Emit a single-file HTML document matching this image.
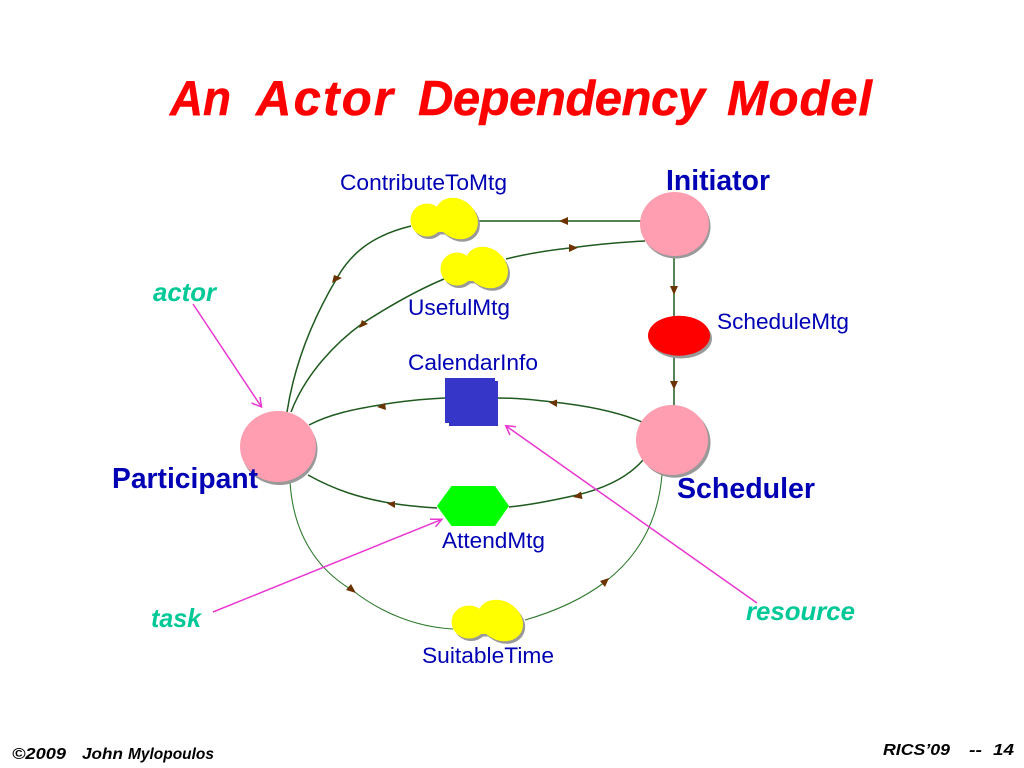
<!DOCTYPE html>
<html><head><meta charset="utf-8"><style>
html,body{margin:0;padding:0;background:#fff}
svg{display:block}
text{font-family:"Liberation Sans",sans-serif}
.h{fill:#f00;font-weight:bold;font-style:italic;font-size:49px;stroke:#f00;stroke-width:.5;stroke-linejoin:round}
.b{fill:#0000b4;font-weight:bold;font-size:28.3px}
.l{fill:#0000b4;font-size:22.3px}
.g{fill:#00c896;font-weight:bold;font-style:italic;font-size:25.8px}
.f{font-weight:bold;font-style:italic;font-size:16px;fill:#000}
.c{fill:none;stroke:#1f5a1f;stroke-width:1.5}
.t{fill:none;stroke:#2f7a2f;stroke-width:1.1}
.m{fill:none;stroke:#e838d0;stroke-width:1.5}
.a{fill:#6b3300}
</style></head><body>
<svg width="1024" height="768" viewBox="0 0 1024 768" xmlns="http://www.w3.org/2000/svg">
<defs>
<g id="sg">
<ellipse cx="427" cy="220" rx="16.5" ry="16.5"/>
<ellipse cx="456.5" cy="218.5" rx="23" ry="19" transform="rotate(40 456.5 218.5)"/>
<rect x="430" y="209" width="16" height="23"/>
</g>
</defs>
<rect width="1024" height="768" fill="#fff"/>
<text class="h" x="170" y="115" textLength="61" lengthAdjust="spacingAndGlyphs">An</text>
<text class="h" x="256" y="115" textLength="137" lengthAdjust="spacing">Actor</text>
<text class="h" x="418" y="115" textLength="287" lengthAdjust="spacing">Dependency</text>
<text class="h" x="727" y="115" textLength="145" lengthAdjust="spacing">Model</text>

<!-- connectors -->
<path class="c" d="M476 221H642"/>
<path class="c" d="M506 259C530 253 550 250 572 247.7C600 244 625 242 645 241"/>
<path class="c" d="M411 226C370 236 350 255 337 278C315 315 295 360 287 412"/>
<path class="c" d="M444 279C415 291 388 307 363 323C335 343 305 375 291 412"/>
<path class="c" d="M674 258V318"/>
<path class="c" d="M674 357V406"/>
<path class="c" d="M309 425C330 414 355 409 380 405C402 401 425 399 445 398"/>
<path class="c" d="M498 398C518 398 535 400 553 402C590 406 618 412 642 422"/>
<path class="c" d="M308 475C335 490 360 498 390 503C405 505.5 420 507 437 508"/>
<path class="c" d="M509 507C530 505 555 500 577 495C610 487 630 475 643 460"/>
<path class="t" d="M290 481C293 535 318 570 352 590C380 612 415 627 453 629"/>
<path class="t" d="M525 620C560 610 585 597 605 582C640 555 658 520 662 475"/>

<!-- arrowheads -->
<polygon class="a" points="559,221 568,217 568,225"/>
<polygon class="a" points="578,247.7 569,244 569,252"/>
<polygon class="a" points="332,283 334,275 342,278"/>
<polygon class="a" points="359,328 362,320 368,324"/>
<polygon class="a" points="674,295 670,286 678,286"/>
<polygon class="a" points="674,389.5 670,381 678,381"/>
<polygon class="a" points="377,407 385,403 386,410"/>
<polygon class="a" points="549,402.5 557,399.5 557,407"/>
<polygon class="a" points="387,503.5 395,501 395,508"/>
<polygon class="a" points="573,497 581,491.5 582.5,499"/>
<polygon class="a" points="356,593 346,590 351,584"/>
<polygon class="a" points="609,578 600,581 605,587"/>

<!-- actors -->
<ellipse cx="676" cy="226.5" rx="34.5" ry="32" fill="#999"/><ellipse cx="674.5" cy="224" rx="34.5" ry="32" fill="#ff9eb0"/>
<ellipse cx="279.5" cy="449.5" rx="38" ry="35.5" fill="#999"/><ellipse cx="278" cy="446.5" rx="38" ry="35.5" fill="#ff9eb0"/>
<ellipse cx="674.5" cy="442.7" rx="36" ry="35" fill="#999"/><ellipse cx="672" cy="440" rx="36" ry="35" fill="#ff9eb0"/>

<!-- goal -->
<ellipse cx="681" cy="338.5" rx="31" ry="20" fill="#999"/>
<ellipse cx="679" cy="335.7" rx="31" ry="20" fill="#f00"/>

<!-- softgoals -->
<g><use href="#sg" fill="#999" x="2" y="2.5"/><use href="#sg" fill="#ff0"/></g>
<g transform="translate(30,49)"><use href="#sg" fill="#999" x="2" y="2.5"/><use href="#sg" fill="#ff0"/></g>
<g transform="translate(16.4,402) scale(1.06,1)"><use href="#sg" fill="#999" x="2" y="2.5"/><use href="#sg" fill="#ff0"/></g>

<!-- resource -->
<rect x="445" y="378" width="50" height="45" fill="#3636c8"/>
<rect x="449" y="381" width="49" height="45" fill="#3636c8"/>

<!-- task -->
<polygon points="437,506 451.5,486 495,486 509,506 495,526 451.5,526" fill="#00ff00"/>

<!-- annotations -->
<path class="m" d="M193 304L261.5 407M251.5 403L261.5 407L260 397"/>
<path class="m" d="M213 612L442 519.3M430 519.3L442 519.3L435.5 526.7"/>
<path class="m" d="M757 603L505.7 425.7M516 426.7L505.7 425.7L510 435"/>

<!-- labels -->
<text class="l" x="340" y="190" textLength="167" lengthAdjust="spacingAndGlyphs">ContributeToMtg</text>
<text class="b" x="666" y="190" textLength="104" lengthAdjust="spacingAndGlyphs">Initiator</text>
<text class="l" x="408" y="315" textLength="102" lengthAdjust="spacingAndGlyphs">UsefulMtg</text>
<text class="l" x="717" y="329" textLength="132" lengthAdjust="spacingAndGlyphs">ScheduleMtg</text>
<text class="l" x="408" y="370" textLength="130" lengthAdjust="spacingAndGlyphs">CalendarInfo</text>
<text class="b" x="112" y="488" textLength="146" lengthAdjust="spacingAndGlyphs">Participant</text>
<text class="b" x="677" y="498" textLength="138" lengthAdjust="spacingAndGlyphs">Scheduler</text>
<text class="l" x="442" y="548" textLength="103" lengthAdjust="spacingAndGlyphs">AttendMtg</text>
<text class="l" x="422" y="663" textLength="132" lengthAdjust="spacingAndGlyphs">SuitableTime</text>
<text class="g" x="153" y="301" textLength="63" lengthAdjust="spacingAndGlyphs">actor</text>
<text class="g" x="151" y="627" textLength="50" lengthAdjust="spacingAndGlyphs">task</text>
<text class="g" x="746" y="620" textLength="109" lengthAdjust="spacingAndGlyphs">resource</text>
<text class="f" x="12" y="759" textLength="54" lengthAdjust="spacingAndGlyphs">©2009</text>
<text class="f" x="82" y="759" textLength="41" lengthAdjust="spacingAndGlyphs">John</text>
<text class="f" x="128" y="759" textLength="86" lengthAdjust="spacingAndGlyphs">Mylopoulos</text>
<text class="f" x="883" y="755" textLength="67" lengthAdjust="spacingAndGlyphs">RICS’09</text>
<text class="f" x="969" y="755" textLength="13" lengthAdjust="spacingAndGlyphs">--</text>
<text class="f" x="993" y="755" textLength="21" lengthAdjust="spacingAndGlyphs">14</text>
</svg>
</body></html>
